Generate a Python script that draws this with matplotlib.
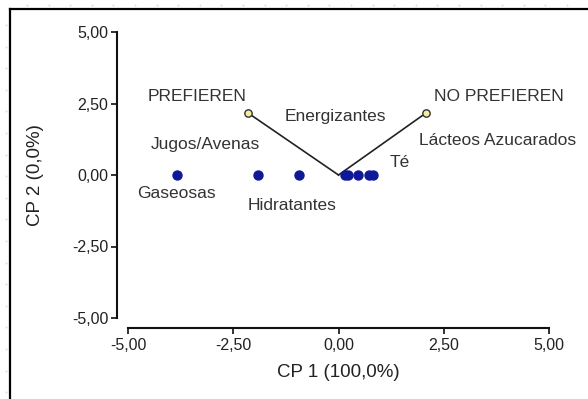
import numpy as np
import matplotlib.pyplot as plt
from matplotlib.lines import Line2D

plt.rcParams['font.family'] = ['Liberation Sans', 'DejaVu Sans']

# product scores on the first two components
prod_cp1 = [-3.84, -1.91, -0.94, 0.15, 0.23, 0.46, 0.72, 0.82]
prod_cp2 = [0.0, 0.0, 0.0, 0.0, 0.0, 0.0, 0.0, 0.0]

# preference variables (biplot vectors)
var_names = ['PREFIEREN', 'NO PREFIEREN']
var_cp1 = [-2.15, 2.08]
var_cp2 = [2.17, 2.17]

# text labels and where they sit
label_text = ['PREFIEREN', 'NO PREFIEREN', 'Energizantes', 'Jugos/Avenas',
              'Gaseosas', 'Hidratantes', 'Lácteos Azucarados', 'Té']
label_pos = [(-3.36, 2.73), (3.81, 2.73), (-0.08, 2.06), (-3.15, 1.05),
             (-3.86, -0.63), (-1.10, -1.05), (3.79, 1.19), (1.46, 0.42)]

ticks = [-5.0, -2.5, 0.0, 2.5, 5.0]
tick_labels = ['-5,00', '-2,50', '0,00', '2,50', '5,00']

W, H = 588, 399
fig = plt.figure(figsize=(W / 100, H / 100), dpi=100)
ax = fig.add_axes([128 / W, 1 - 318 / H, 421 / W, 286 / H])

# vectors from the origin
for x, y in zip(var_cp1, var_cp2):
    ax.plot([0, x], [0, y], color='#222222', lw=1.2, zorder=2)
ax.scatter(var_cp1, var_cp2, s=28, facecolor='#f2f0a0', edgecolor='#333333',
           linewidths=1.0, zorder=4)

ax.scatter(prod_cp1, prod_cp2, s=42, color='#10189a', edgecolor='#10189a', zorder=3)

for txt, (x, y) in zip(label_text, label_pos):
    ax.text(x, y, txt, ha='center', va='center', fontsize=12.5, color='#333333')

ax.set_xlim(-5, 5)
ax.set_ylim(-5, 5)
ax.set_xticks(ticks)
ax.set_xticklabels(tick_labels)
ax.set_yticks(ticks)
ax.set_yticklabels(tick_labels)
ax.tick_params(labelsize=11.5, colors='#222222', width=1.3, length=4)
ax.tick_params(axis='y', pad=2)

for s in ['top', 'right']:
    ax.spines[s].set_visible(False)
ax.spines['left'].set_position(('outward', 8))
ax.spines['bottom'].set_position(('outward', 7))
for s in ['left', 'bottom']:
    ax.spines[s].set_linewidth(1.5)
    ax.spines[s].set_color('#111111')

ax.set_xlabel('CP 1 (100,0%)', fontsize=13.5, color='#222222')
ax.set_ylabel('CP 2 (0,0%)', fontsize=13.5, color='#222222')
ax.xaxis.set_label_coords(0.5, -0.16)
ax.yaxis.set_label_coords(-0.200, 0.5)

# outer frame
fig.add_artist(Line2D([10 / W, 1], [1 - 9 / H, 1 - 9 / H], color='black', lw=1.6))
fig.add_artist(Line2D([10 / W, 10 / W], [0, 1 - 9 / H], color='black', lw=1.6))

# faint sheet grid dots
gx = np.arange(27, W, 21.6)
gy = np.arange(25, H, 21.6)
fig.add_artist(Line2D(gx / W, np.full_like(gx, 1 - 5 / H), ls='none', marker='s',
                      ms=1.2, color='#d8d8d8', mew=0))
fig.add_artist(Line2D(np.full_like(gy, 6 / W), 1 - gy / H, ls='none', marker='s',
                      ms=1.2, color='#d8d8d8', mew=0))

fig.savefig('out.png', dpi=100)
